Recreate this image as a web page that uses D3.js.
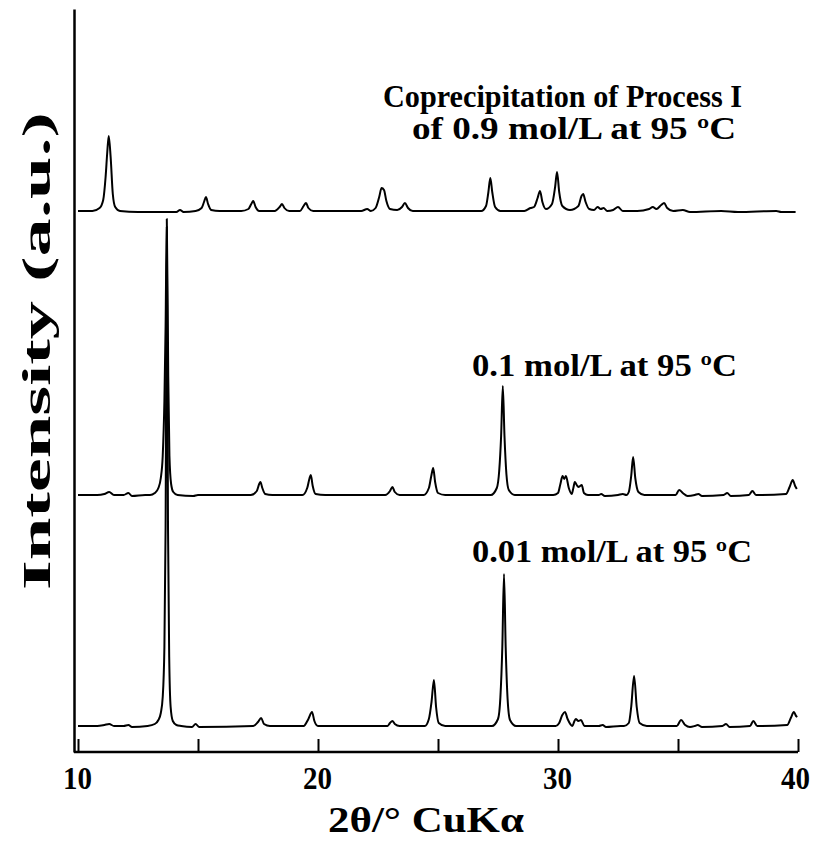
<!DOCTYPE html>
<html>
<head>
<meta charset="utf-8">
<script src="https://cdn.jsdelivr.net/npm/d3@7"></script>
<style>
  body { margin: 0; background: #fff; }
  svg text { font-family: "Liberation Serif", "Times New Roman", serif; font-weight: bold; fill: #000; }
</style>
</head>
<body>
<div id="chart"></div>
<script>
// 2theta (deg) vs intensity above each pattern's own baseline (arbitrary units)
const patternTop = [
  [10.0, 1], [10.6, 1], [10.9, 4], [11.05, 12], [11.15, 35], [11.22, 60], [11.28, 76], [11.36, 55],
  [11.45, 18], [11.55, 5], [11.75, 1], [12.5, 0], [13.5, 0], [14.1, 0], [14.25, 2], [14.4, 0],
  [14.9, 1], [15.15, 4], [15.25, 10], [15.33, 15], [15.42, 8], [15.55, 2], [15.9, 1], [16.8, 1],
  [17.1, 3], [17.22, 8], [17.3, 11], [17.4, 5], [17.55, 1], [18.2, 1], [18.4, 5], [18.5, 8],
  [18.6, 4], [18.8, 1], [19.25, 1], [19.4, 6], [19.5, 9], [19.6, 4], [19.8, 1], [21.8, 1],
  [22.05, 3], [22.2, 1], [22.4, 4], [22.55, 15], [22.65, 24], [22.75, 22], [22.85, 11], [23.0, 3],
  [23.3, 2], [23.5, 5], [23.62, 9], [23.75, 4], [23.95, 1], [26.8, 1], [27.0, 6], [27.1, 20],
  [27.18, 34], [27.26, 20], [27.38, 5], [27.6, 1], [28.6, 1], [28.85, 4], [29.0, 5], [29.15, 14],
  [29.25, 21], [29.35, 10], [29.5, 3], [29.75, 8], [29.88, 25], [29.96, 40], [30.05, 20], [30.18, 6],
  [30.5, 2], [30.85, 6], [30.98, 16], [31.05, 18], [31.15, 10], [31.3, 3], [31.5, 2], [31.65, 5],
  [31.78, 3], [31.9, 4], [32.05, 1], [32.3, 2], [32.5, 5], [32.7, 1], [33.3, 1], [33.8, 3],
  [33.95, 5], [34.1, 3], [34.3, 7], [34.42, 9], [34.55, 4], [34.8, 1], [35.2, 2], [35.5, 0],
  [36.8, 1], [37.5, 0], [39.1, 1], [39.3, 0], [39.9, 0]
];

const patternMid = [
  [10.0, 1], [10.8, 1], [11.1, 2], [11.3, 4], [11.5, 1], [11.9, 1], [12.1, 3], [12.25, 0],
  [12.8, 1], [13.0, 1], [13.2, 3], [13.35, 8], [13.45, 18], [13.53, 40], [13.6, 95], [13.65, 170],
  [13.7, 277], [13.76, 120], [13.81, 40], [13.88, 12], [13.97, 4], [14.15, 1], [14.8, 0], [15.0, 1],
  [17.2, 1], [17.45, 5], [17.55, 12], [17.6, 14], [17.68, 8], [17.8, 2], [18.1, 1], [19.35, 1],
  [19.55, 8], [19.65, 18], [19.7, 21], [19.78, 10], [19.9, 2], [20.3, 1], [22.8, 1], [23.0, 5],
  [23.1, 9], [23.2, 4], [23.4, 1], [24.4, 1], [24.62, 8], [24.72, 20], [24.8, 28], [24.88, 14],
  [25.0, 3], [25.3, 1], [27.2, 1], [27.45, 8], [27.55, 25], [27.63, 60], [27.7, 110], [27.77, 60],
  [27.85, 22], [27.95, 6], [28.2, 1], [29.8, 1], [30.0, 3], [30.1, 12], [30.19, 20], [30.26, 17],
  [30.33, 20], [30.45, 8], [30.57, 2], [30.64, 8], [30.7, 14], [30.78, 11], [30.85, 9], [30.92, 10],
  [30.99, 11], [31.08, 3], [31.25, 1], [31.7, 1], [31.8, 2], [31.95, 0], [32.5, 1], [32.7, 2],
  [32.85, 1], [32.95, 4], [33.05, 20], [33.13, 39], [33.22, 18], [33.35, 4], [33.6, 1], [34.9, 1],
  [35.05, 6], [35.2, 3], [35.4, 0], [35.7, 1], [35.85, 2], [36.0, 0], [36.9, 1], [37.05, 3],
  [37.2, 0], [37.95, 1], [38.1, 5], [38.25, 1], [39.5, 2], [39.65, 9], [39.78, 16], [39.88, 10],
  [39.95, 7]
];

const patternLow = [
  [10.0, 1], [10.8, 1], [11.1, 2], [11.3, 3], [11.5, 1], [11.9, 1], [12.1, 2], [12.25, 0],
  [12.9, 1], [13.2, 3], [13.35, 7], [13.45, 14], [13.53, 30], [13.6, 80], [13.65, 200], [13.7, 500],
  [13.75, 200], [13.8, 70], [13.86, 20], [13.95, 6], [14.1, 2], [14.3, 1], [14.75, 0], [14.9, 3],
  [15.05, 0], [17.3, 1], [17.5, 5], [17.63, 9], [17.75, 3], [18.0, 1], [19.4, 1], [19.6, 8],
  [19.75, 15], [19.85, 6], [20.0, 1], [22.9, 1], [23.0, 4], [23.1, 6], [23.2, 3], [23.4, 1],
  [24.45, 1], [24.62, 8], [24.73, 25], [24.83, 47], [24.92, 20], [25.03, 4], [25.3, 1], [27.25, 1],
  [27.5, 8], [27.6, 30], [27.68, 80], [27.75, 153], [27.82, 80], [27.9, 28], [28.0, 7], [28.25, 1],
  [29.9, 1], [30.05, 4], [30.18, 12], [30.29, 15], [30.4, 8], [30.6, 1], [30.67, 5], [30.74, 8],
  [30.85, 6], [30.96, 7], [31.1, 1], [31.7, 1], [31.86, 2], [32.0, 0], [32.6, 1], [32.75, 1],
  [32.95, 4], [33.05, 20], [33.17, 51], [33.28, 20], [33.4, 4], [33.7, 1], [34.95, 1], [35.13, 7],
  [35.3, 2], [35.5, 0], [35.7, 1], [35.82, 2], [36.0, 0], [36.85, 1], [37.0, 3], [37.15, 0],
  [38.0, 1], [38.14, 6], [38.3, 1], [39.55, 2], [39.7, 9], [39.83, 15], [39.92, 11], [39.97, 10]
];

// vertical offset of each pattern's baseline
const baselines = [540, 256, 25];
const patterns = [patternTop, patternMid, patternLow];

const xTicks = [10, 15, 20, 25, 30, 35, 40];
const xLabels = { 10: "10", 20: "20", 30: "30", 40: "40" };

const annotations = [
  { text: "Coprecipitation of Process I", x: 383, y: 107, len: 359 },
  { text: "of 0.9 mol/L at 95 ºC", x: 412, y: 139, len: 324 },
  { text: "0.1 mol/L at 95 ºC", x: 472, y: 376, len: 265 },
  { text: "0.01 mol/L at 95 ºC", x: 472, y: 562, len: 280 }
];

const width = 816, height = 842;

const svg = d3.select("#chart")
  .append("svg")
  .attr("width", width)
  .attr("height", height);

const x = d3.scaleLinear().domain([10, 40]).range([78, 798]);
const y = d3.scaleLinear().domain([0, 743]).range([752, 9]);

// bottom axis, ticks pointing inward
const xAxis = svg.append("g")
  .attr("transform", "translate(0,752)")
  .call(d3.axisBottom(x)
    .tickValues(xTicks)
    .tickSizeInner(-13)
    .tickSizeOuter(0)
    .tickPadding(14)
    .tickFormat(d => xLabels[d] || ""));

xAxis.attr("font-family", null).attr("font-size", null);
xAxis.select(".domain").attr("stroke-width", 2.5).attr("d", "M74,0H798");
xAxis.selectAll(".tick line").attr("stroke-width", 2);
xAxis.selectAll(".tick text")
  .filter(d => xLabels[d])
  .attr("x", d => d === 40 ? -3 : -1)
  .attr("textLength", 29)
  .attr("lengthAdjust", "spacingAndGlyphs")
  .style("font-size", "32px");

// left axis, no ticks
const yAxis = svg.append("g")
  .attr("transform", "translate(74,0)")
  .call(d3.axisLeft(y).tickValues([]).tickSizeOuter(0));
yAxis.select(".domain").attr("stroke-width", 2.5);

// the three patterns
const line = d3.line()
  .x(d => x(d[0]))
  .y(d => d[1])
  .curve(d3.curveMonotoneX);

patterns.forEach((p, i) => {
  svg.append("path")
    .datum(p.map(d => [d[0], y(d[1] + baselines[i])]))
    .attr("fill", "none")
    .attr("stroke", "#000")
    .attr("stroke-width", 2)
    .attr("stroke-linejoin", "round")
    .attr("d", line);
});

// labels
svg.selectAll(".note")
  .data(annotations)
  .enter()
  .append("text")
  .attr("class", "note")
  .attr("x", d => d.x)
  .attr("y", d => d.y)
  .attr("textLength", d => d.len)
  .attr("lengthAdjust", "spacingAndGlyphs")
  .style("font-size", "31px")
  .text(d => d.text);

svg.append("text")
  .attr("x", 328)
  .attr("y", 832)
  .attr("textLength", 196)
  .attr("lengthAdjust", "spacingAndGlyphs")
  .style("font-size", "36px")
  .text("2θ/°  CuKα");

svg.append("text")
  .attr("transform", "translate(50,351) rotate(-90)")
  .attr("text-anchor", "middle")
  .attr("textLength", 478)
  .attr("lengthAdjust", "spacingAndGlyphs")
  .style("font-size", "40px")
  .text("Intensity (a.u.)");
</script>
</body>
</html>
